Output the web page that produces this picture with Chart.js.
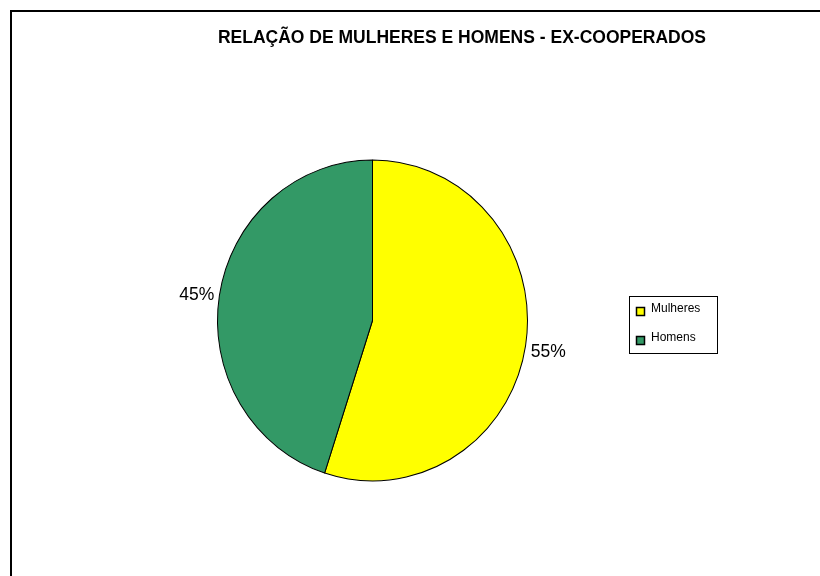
<!doctype html>
<html lang="pt">
<head>
    <meta charset="UTF-8">
    <title>Relação de mulheres e homens</title>
    <script src="https://cdn.jsdelivr.net/npm/chart.js"></script>
    <style>
        body {
            margin: 0;
            background: #fff;
            font-family: "Liberation Sans", Arial, sans-serif;
            overflow: hidden;
        }
        #wrap {
            position: relative;
            width: 820px;
            height: 576px;
        }
        #frame {
            position: absolute;
            left: 10px;
            top: 10px;
            width: 830px;
            height: 600px;
            border: 2px solid #000;
            box-sizing: border-box;
        }
        #myChart {
            position: absolute;
            left: 0;
            top: 0;
        }
    </style>
</head>
<body>
<div id="wrap">
    <div id="frame"></div>
    <canvas id="myChart" width="820" height="576"></canvas>
</div>

<script>
    const chartTitle = 'RELAÇÃO DE MULHERES E HOMENS - EX-COOPERADOS';
    const categories = ['Mulheres', 'Homens'];
    const values = [55, 45];
    const colors = ['#FFFF00', '#339966'];

    // the original pie is a bit taller than wide
    const stretchY = 1.035;

    const ellipsePlugin = {
        id: 'ellipse',
        beforeDatasetsDraw(chart) {
            const area = chart.chartArea;
            const cy = (area.top + area.bottom) / 2;
            const ctx = chart.ctx;
            ctx.save();
            ctx.translate(0, cy);
            ctx.scale(1, stretchY);
            ctx.translate(0, -cy);
        },
        afterDatasetsDraw(chart) {
            chart.ctx.restore();
        }
    };

    const extrasPlugin = {
        id: 'extras',
        afterDraw(chart) {
            const ctx = chart.ctx;
            const area = chart.chartArea;
            const cy = (area.top + area.bottom) / 2;
            const total = values.reduce((a, b) => a + b, 0);

            // title
            ctx.save();
            ctx.fillStyle = '#000';
            ctx.font = 'bold 17.5px "Liberation Sans", Arial, sans-serif';
            ctx.textAlign = 'center';
            ctx.textBaseline = 'middle';
            ctx.fillText(chartTitle, 462, 38);

            // percentage labels outside the slices
            ctx.font = '17.5px "Liberation Sans", Arial, sans-serif';
            const meta = chart.getDatasetMeta(0);
            meta.data.forEach((arc, i) => {
                const mid = (arc.startAngle + arc.endAngle) / 2;
                const r = arc.outerRadius + 23;
                const x = arc.x + Math.cos(mid) * r;
                const y = cy + Math.sin(mid) * r * stretchY + 3;
                const pct = Math.round(values[i] / total * 100) + '%';
                ctx.textAlign = 'center';
                ctx.fillText(pct, x, y);
            });

            // legend box
            const lx = 629, ly = 296, lw = 88, lh = 57;
            ctx.strokeStyle = '#000';
            ctx.lineWidth = 1;
            ctx.strokeRect(lx + 0.5, ly + 0.5, lw, lh);
            ctx.font = '12px "Liberation Sans", Arial, sans-serif';
            ctx.textAlign = 'left';
            categories.forEach((c, i) => {
                const y = ly + 16 + i * 29;
                ctx.fillStyle = colors[i];
                ctx.fillRect(636, y - 5, 9, 9);
                ctx.strokeStyle = '#000';
                ctx.lineWidth = 1.5;
                ctx.strokeRect(636.5, y - 4.5, 8, 8);
                ctx.fillStyle = '#000';
                ctx.fillText(c, 651, y - 3);
            });
            ctx.restore();
        }
    };

    const ctx = document.getElementById('myChart').getContext('2d');
    new Chart(ctx, {
        type: 'pie',
        data: {
            labels: categories,
            datasets: [{
                data: values,
                backgroundColor: colors,
                borderColor: '#000',
                borderWidth: 1
            }]
        },
        options: {
            responsive: false,
            animation: false,
            layout: {
                padding: { left: 217, right: 292, top: 165, bottom: 100 }
            },
            plugins: {
                legend: { display: false },
                title: { display: false },
                tooltip: { enabled: false }
            }
        },
        plugins: [ellipsePlugin, extrasPlugin]
    });
</script>
</body>
</html>
